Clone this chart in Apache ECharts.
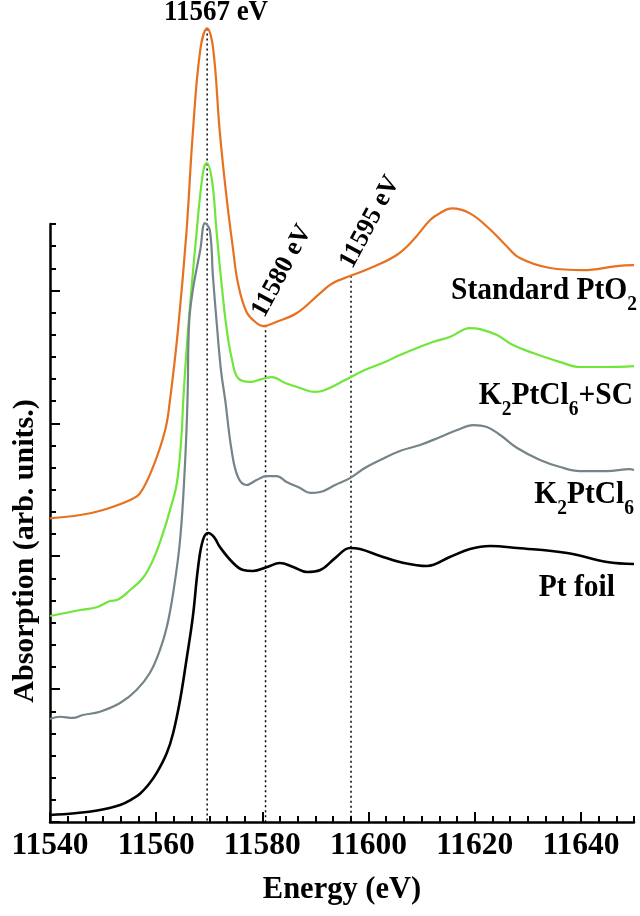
<!DOCTYPE html>
<html>
<head>
<meta charset="utf-8">
<script src="https://cdn.jsdelivr.net/npm/echarts@6/dist/echarts.min.js"></script>
<style>
html,body{margin:0;padding:0;background:#fff;}
#chart{width:640px;height:916px;}
</style>
</head>
<body>
<div id="chart"></div>
<script>
// ---- data (energy in eV, absorption in arbitrary stacked units) ----
const energyTicks = [11540, 11560, 11580, 11600, 11620, 11640];
const absTicks = [0, 1, 2, 3, 4];

const stdPtO2E = [11540, 11545.7, 11550, 11555.1, 11557, 11559.4, 11561.7, 11562.6, 11564.1, 11565.7, 11566.9, 11568.3, 11569.6, 11570.7, 11572, 11573.3, 11574.5, 11575.4, 11577, 11578.9, 11580.1, 11582.7, 11586.5, 11590.9, 11593.3, 11596.5, 11600.8, 11605.3, 11608.4, 11611.6, 11613.5, 11615.7, 11619.1, 11622.9, 11625.7, 11628.5, 11634.2, 11640.4, 11646.8, 11650];
const stdPtO2V = [2.285, 2.31, 2.348, 2.423, 2.476, 2.671, 2.95, 3.175, 3.702, 4.437, 5.184, 5.809, 5.972, 5.831, 5.184, 4.685, 4.304, 4.056, 3.84, 3.755, 3.732, 3.765, 3.83, 3.98, 4.056, 4.108, 4.176, 4.267, 4.379, 4.53, 4.583, 4.617, 4.58, 4.459, 4.346, 4.244, 4.169, 4.153, 4.183, 4.19];

const k2scE = [11540, 11545.7, 11548.8, 11551.3, 11552.6, 11555.1, 11557.5, 11559.4, 11561.3, 11562.6, 11563.9, 11564.8, 11565.1, 11566, 11567.6, 11568.8, 11569.5, 11570.5, 11571.4, 11572.3, 11573.3, 11574.3, 11575.4, 11577.7, 11579.9, 11581.8, 11584.3, 11587.1, 11589.9, 11591.8, 11595.6, 11599.3, 11603.1, 11605.9, 11612.1, 11615.3, 11619.1, 11621, 11624.2, 11627.2, 11631, 11636.1, 11639.8, 11644.9, 11650];
const k2scV = [1.55, 1.595, 1.616, 1.663, 1.67, 1.746, 1.836, 1.971, 2.175, 2.348, 2.551, 2.927, 3.175, 3.702, 4.432, 4.883, 4.959, 4.831, 4.432, 4.056, 3.702, 3.476, 3.341, 3.311, 3.333, 3.348, 3.303, 3.266, 3.236, 3.251, 3.326, 3.401, 3.461, 3.514, 3.612, 3.649, 3.717, 3.709, 3.664, 3.589, 3.529, 3.461, 3.424, 3.424, 3.431];

const k2E = [11540, 11541.9, 11544.3, 11546.2, 11549.4, 11553.2, 11556.3, 11558.8, 11560.7, 11562, 11563.2, 11564.5, 11565.4, 11565.9, 11566.2, 11566.9, 11568.3, 11569.2, 11570.1, 11570.7, 11571.4, 11572.2, 11573, 11574.2, 11575.4, 11577, 11578.9, 11580.8, 11582.7, 11584.6, 11587.1, 11589, 11590.9, 11593.7, 11596.5, 11599.3, 11602.2, 11605.9, 11609.7, 11613.5, 11616.7, 11619.7, 11622.3, 11624.8, 11628, 11632.3, 11636.1, 11639.8, 11644.9, 11649.2, 11650];
const k2V = [0.775, 0.792, 0.783, 0.805, 0.83, 0.895, 0.993, 1.121, 1.294, 1.467, 1.723, 2.122, 2.671, 3.175, 3.755, 4.003, 4.304, 4.507, 4.455, 4.101, 3.755, 3.401, 3.175, 2.799, 2.596, 2.536, 2.573, 2.603, 2.603, 2.558, 2.513, 2.476, 2.483, 2.536, 2.588, 2.664, 2.724, 2.792, 2.837, 2.897, 2.95, 2.987, 2.972, 2.912, 2.814, 2.724, 2.671, 2.641, 2.641, 2.656, 2.649];

const ptFoilE = [11540, 11544.7, 11548.9, 11553.2, 11555.6, 11557, 11558.5, 11560.1, 11562, 11563.2, 11564.5, 11565.7, 11566.9, 11567.9, 11568.8, 11569.8, 11570.9, 11572, 11574.5, 11576.4, 11578.2, 11580.9, 11583.3, 11585.8, 11588.4, 11590.9, 11593.7, 11596.5, 11598.4, 11602.2, 11605.9, 11611, 11615.3, 11619.1, 11622.9, 11628, 11637.4, 11644.9, 11650];
const ptFoilV = [0.053, 0.066, 0.086, 0.128, 0.175, 0.215, 0.278, 0.369, 0.519, 0.67, 0.918, 1.219, 1.543, 1.919, 2.122, 2.175, 2.144, 2.069, 1.949, 1.896, 1.889, 1.919, 1.949, 1.919, 1.881, 1.896, 1.986, 2.062, 2.054, 2.002, 1.956, 1.926, 1.994, 2.054, 2.077, 2.062, 2.024, 1.956, 1.941];

const markerEnergies = [11569.6, 11580.6, 11596.7];
const markerLabels = ['11567 eV', '11580 eV', '11595 eV'];

// ---- helpers ----
const pairs = (xs, ys) => xs.map((x, i) => [x, ys[i]]);
function interp(xs, ys, x) {
  for (let i = 1; i < xs.length; i++) {
    if (x <= xs[i]) {
      const t = (x - xs[i - 1]) / (xs[i] - xs[i - 1]);
      return ys[i - 1] + t * (ys[i] - ys[i - 1]);
    }
  }
  return ys[ys.length - 1];
}
const X_MIN = 11540, X_MAX = 11650, Y_MIN = 0, Y_MAX = 4.5;
const minorX = [];
for (let k = 1; X_MIN + k * 20 / 6 < X_MAX + 0.01; k++) {
  if (k % 6 !== 0) minorX.push(X_MIN + k * 20 / 6);
}
const minorY = [];
for (let k = 1; k <= 27; k++) if (k % 6 !== 0) minorY.push(k / 6);

const FONT = "'Liberation Serif', 'Times New Roman', serif";
const black = '#000';

const lineSeries = (name, xs, ys, color, width) => ({
  name, type: 'line', data: pairs(xs, ys), showSymbol: false, clip: false,
  smooth: 0.4, lineStyle: { color, width }, itemStyle: { color }, z: 3
});

const markerSeries = markerEnergies.map((e) => ({
  type: 'line', showSymbol: false, clip: false, silent: true,
  data: [[e, interp(stdPtO2E, stdPtO2V, e)], [e, 0]],
  lineStyle: { color: black, width: 1.5, type: [2, 3] }, z: 2
}));

const chart = echarts.init(document.getElementById('chart'), null, { renderer: 'canvas' });

const subRich = {
  n: { fontFamily: FONT, fontWeight: 'bold', fontSize: 29.5, fill: black, color: black },
  s: { fontFamily: FONT, fontWeight: 'bold', fontSize: 19.5, padding: [25, 0, 0, 0], fill: black, color: black }
};
function label(text, right, cy) {
  return {
    type: 'text', x: right, y: cy, scaleY: 1.08,
    style: { text, rich: subRich, align: 'right', verticalAlign: 'middle', fill: black,
      font: "bold 29.5px " + FONT }
  };
}

const gridBox = { left: 50, right: 6, top: 224, bottom: 94, containLabel: false };

chart.setOption({
  animation: false,
  backgroundColor: '#fff',
  grid: [gridBox, Object.assign({}, gridBox)],
  xAxis: [{
    type: 'value', min: X_MIN, max: X_MAX, interval: 20, gridIndex: 0,
    name: 'Energy (eV)', nameLocation: 'middle', nameGap: 53,
    nameTextStyle: { fontFamily: FONT, fontWeight: 'bold', fontSize: 30.5, color: black },
    axisLine: { show: true, lineStyle: { color: black, width: 2.5 } },
    axisTick: { show: true, inside: true, length: 10, customValues: energyTicks, lineStyle: { color: black, width: 2 } },
    axisLabel: { show: true, customValues: energyTicks, margin: 8, formatter: (v) => String(v),
      fontFamily: FONT, fontWeight: 'bold', fontSize: 31.5, color: black },
    splitLine: { show: false }
  }, {
    type: 'value', min: X_MIN, max: X_MAX, position: 'bottom', gridIndex: 1,
    axisLine: { show: false },
    axisTick: { show: true, inside: true, length: 6, customValues: minorX, lineStyle: { color: black, width: 2 } },
    axisLabel: { show: false },
    splitLine: { show: false }
  }],
  yAxis: [{
    type: 'value', min: Y_MIN, max: Y_MAX, interval: 1, gridIndex: 0,
    axisLine: { show: true, lineStyle: { color: black, width: 2.5 } },
    axisTick: { show: true, inside: true, length: 10, customValues: absTicks, lineStyle: { color: black, width: 2 } },
    axisLabel: { show: false },
    splitLine: { show: false }
  }, {
    type: 'value', min: Y_MIN, max: Y_MAX, position: 'left', gridIndex: 1,
    axisLine: { show: false },
    axisTick: { show: true, inside: true, length: 6, customValues: minorY, lineStyle: { color: black, width: 2 } },
    axisLabel: { show: false },
    splitLine: { show: false }
  }],
  series: [
    ...markerSeries,
    lineSeries('Standard PtO2', stdPtO2E, stdPtO2V, '#E8711F', 2.2),
    lineSeries('K2PtCl6+SC', k2scE, k2scV, '#6FE639', 2.2),
    lineSeries('K2PtCl6', k2E, k2V, '#748489', 2.2),
    lineSeries('Pt foil', ptFoilE, ptFoilV, '#000000', 2.6)
  ],
  graphic: [
    { type: 'text', x: 25, y: 551, rotation: Math.PI / 2,
      style: { text: 'Absorption (arb. units.)', font: 'bold 30px ' + FONT, fill: black, align: 'center', verticalAlign: 'middle' } },
    { type: 'text', x: 216, y: 12, scaleY: 1.1,
      style: { text: markerLabels[0], font: 'bold 27px ' + FONT, fill: black, align: 'center', verticalAlign: 'middle' } },
    { type: 'text', x: 282, y: 271, rotation: 62 * Math.PI / 180,
      style: { text: markerLabels[1], font: 'bold 26px ' + FONT, fill: black, align: 'center', verticalAlign: 'middle' } },
    { type: 'text', x: 370, y: 222, rotation: 62 * Math.PI / 180,
      style: { text: markerLabels[2], font: 'bold 26px ' + FONT, fill: black, align: 'center', verticalAlign: 'middle' } },
    label('{n|Standard PtO}{s|2}', 637, 291),
    label('{n|K}{s|2}{n|PtCl}{s|6}{n|+SC}', 633, 396),
    label('{n|K}{s|2}{n|PtCl}{s|6}', 634, 495),
    label('{n|Pt foil}', 615, 588)
  ]
});
</script>
</body>
</html>
